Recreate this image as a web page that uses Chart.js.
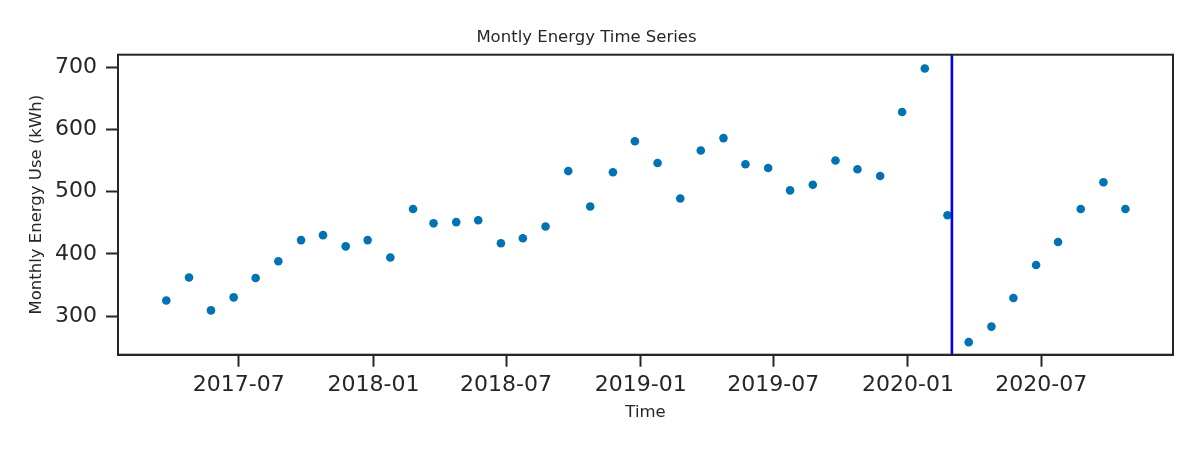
<!DOCTYPE html>
<html>
<head>
<meta charset="utf-8">
<script src="https://cdn.jsdelivr.net/npm/chart.js@4.4.1/dist/chart.umd.min.js"></script>
<style>
  html, body { margin: 0; padding: 0; background: #fff; }
  #wrap { width: 1200px; height: 450px; }
</style>
</head>
<body>
<div id="wrap"><canvas id="chart"></canvas></div>
<script>
// monthly readings
const months = [
  "2017-03", "2017-04", "2017-05", "2017-06", "2017-07", "2017-08", "2017-09", "2017-10", "2017-11", "2017-12",
  "2018-01", "2018-02", "2018-03", "2018-04", "2018-05", "2018-06", "2018-07", "2018-08", "2018-09", "2018-10", "2018-11", "2018-12",
  "2019-01", "2019-02", "2019-03", "2019-04", "2019-05", "2019-06", "2019-07", "2019-08", "2019-09", "2019-10", "2019-11", "2019-12",
  "2020-01", "2020-02", "2020-03", "2020-04", "2020-05", "2020-06", "2020-07", "2020-08", "2020-09", "2020-10"
];
const energy = [
  325, 362, 309, 330, 361, 388, 422, 430, 412, 422,
  394, 472, 449, 451, 454, 417, 425, 444, 533, 476, 531, 581,
  546, 489, 566, 586, 544, 538, 502, 511, 550, 536, 525, 628,
  698, 462, 258, 283, 329, 382, 419, 472, 515, 472
];
const xTickLabels = ["2017-07", "2018-01", "2018-07", "2019-01", "2019-07", "2020-01", "2020-07"];
const yTickValues = [300, 400, 500, 600, 700];
const cutoffDate = "2020-03-01";

const readingDay = 24;  // points sit late in each month

function toTime(s, day) {
  const p = s.split("-").map(Number);
  return Date.UTC(p[0], p[1] - 1, day || p[2] || 1);
}
function fmtMonth(v) {
  const d = new Date(v);
  return d.getUTCFullYear() + "-" + String(d.getUTCMonth() + 1).padStart(2, "0");
}

const points = months.map((m, i) => ({ x: toTime(m, readingDay), y: energy[i] }));
const cutoff = toTime(cutoffDate);

const ink = "#262626";
const font = "'DejaVu Sans', sans-serif";

const frame = {
  id: "frame",
  afterDraw(chart) {
    const a = chart.chartArea, c = chart.ctx;
    c.save();
    c.strokeStyle = ink;
    c.lineWidth = 2;
    c.strokeRect(a.left, a.top, a.right - a.left, a.bottom - a.top);
    c.restore();
  }
};

new Chart(document.getElementById("chart"), {
  data: {
    datasets: [
      {
        type: "scatter",
        data: points,
        backgroundColor: "#0173b2",
        borderWidth: 0,
        pointRadius: 4.3,
        order: 2
      },
      {
        type: "line",
        data: [{ x: cutoff, y: 0 }, { x: cutoff, y: 1000 }],
        borderColor: "#0000ff",
        borderWidth: 2.6,
        pointRadius: 0,
        order: 1
      }
    ]
  },
  options: {
    responsive: true,
    maintainAspectRatio: false,
    animation: false,
    layout: { padding: { left: 0, right: 27, top: 0, bottom: 0 } },
    plugins: {
      legend: { display: false },
      tooltip: { enabled: false },
      title: {
        display: true,
        text: "Montly Energy Time Series",
        color: ink,
        font: { family: font, size: 16.5, weight: "normal" },
        padding: { top: 27.5, bottom: 7.4 }
      }
    },
    scales: {
      x: {
        type: "linear",
        min: toTime("2017-01-17"),
        max: toTime("2020-12-28"),
        afterBuildTicks: s => { s.ticks = xTickLabels.map(t => ({ value: toTime(t) })); },
        afterFit: s => { s.height = 95.3; },
        ticks: {
          callback: v => fmtMonth(v),
          color: ink,
          font: { family: font, size: 22 },
          padding: 5,
          maxRotation: 0,
          autoSkip: false
        },
        grid: { drawOnChartArea: false, tickLength: 12, tickWidth: 2, tickColor: ink },
        border: { display: true, color: ink, width: 2 },
        title: {
          display: true,
          text: "Time",
          color: ink,
          font: { family: font, size: 16.5 },
          padding: { top: 0, bottom: 27 }
        }
      },
      y: {
        type: "linear",
        min: 237.8,
        max: 720.1,
        afterBuildTicks: s => { s.ticks = yTickValues.map(v => ({ value: v })); },
        afterFit: s => { s.width = 118; },
        ticks: {
          color: ink,
          font: { family: font, size: 22 },
          padding: 9
        },
        grid: { drawOnChartArea: false, tickLength: 12, tickWidth: 2, tickColor: ink },
        border: { display: true, color: ink, width: 2 },
        title: {
          display: true,
          text: "Monthly Energy Use (kWh)",
          color: ink,
          font: { family: font, size: 16.5 },
          padding: { top: 26.5, bottom: 0 }
        }
      }
    }
  },
  plugins: [frame]
});
</script>
</body>
</html>
